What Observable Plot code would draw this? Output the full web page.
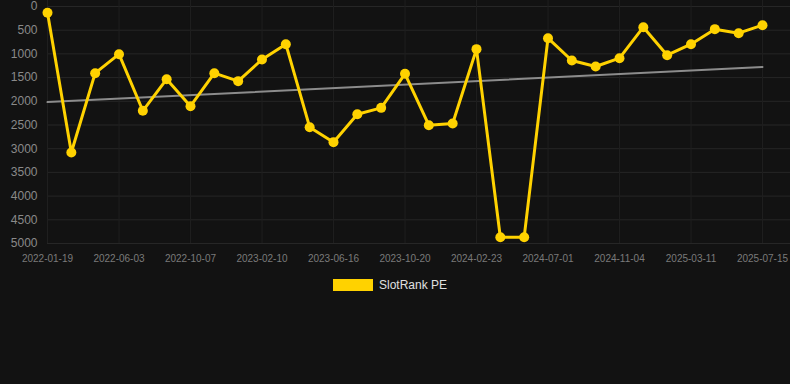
<!DOCTYPE html>
<html>
<head>
<meta charset="utf-8">
<script src="https://cdn.jsdelivr.net/npm/d3@7"></script>
<script src="https://cdn.jsdelivr.net/npm/@observablehq/plot@0.6"></script>
<style>
  html, body { margin: 0; padding: 0; background: #121212; }
  body { width: 790px; height: 384px; overflow: hidden; font-family: "Liberation Sans", Arial, sans-serif; }
  #chart svg { display: block; }
  #legend { position: relative; height: 30px; }
  #legend .sw { position: absolute; left: 333px; top: 7px; width: 40px; height: 12px; background: #FFD200; }
  #legend .lb { position: absolute; left: 379px; top: 6px; font-size: 12px; color: #e0e0e0; line-height: 14px; }
</style>
</head>
<body>
<div id="chart"></div>
<div id="legend"><div class="sw"></div><div class="lb">SlotRank PE</div></div>
<script>
const seriesName = "SlotRank PE";
const tickLabels = ["2022-01-19", "2022-06-03", "2022-10-07", "2023-02-10", "2023-06-16", "2023-10-20", "2024-02-23", "2024-07-01", "2024-11-04", "2025-03-11", "2025-07-15"];
const ranks = [130, 3080, 1407, 1006, 2200, 1533, 2103, 1407, 1575, 1118, 795, 2546, 2862, 2272, 2138, 1420, 2504, 2468, 900, 4867, 4867, 668, 1139, 1266, 1090, 436, 1027, 795, 478, 563, 394];
const yTicks = [0, 500, 1000, 1500, 2000, 2500, 3000, 3500, 4000, 4500, 5000];

const data = ranks.map((v, i) => ({i, v}));
const xTicks = tickLabels.map((_, k) => k * 3);

const chart = Plot.plot({
  width: 790,
  height: 272,
  marginLeft: 47,
  marginRight: 0,
  marginTop: 6,
  marginBottom: 29,
  style: {background: "#121212", fontFamily: "Liberation Sans, Arial, sans-serif", overflow: "visible"},
  x: {type: "linear", domain: [0, 31.175], ticks: xTicks, tickFormat: d => tickLabels[d / 3]},
  y: {domain: [0, 5000], reverse: true, ticks: yTicks, tickFormat: d => String(d)},
  marks: [
    Plot.gridY(yTicks, {stroke: "#262626", strokeOpacity: 1, strokeWidth: 1}),
    Plot.gridX(xTicks, {stroke: "#1f1f1f", strokeOpacity: 1, strokeWidth: 1, y1: -300, y2: 5000}),
    Plot.axisY(yTicks, {tickSize: 0, tickPadding: 10, fill: "#8a8a8a", fontSize: 12, label: null, tickFormat: d => String(d)}),
    Plot.axisX(xTicks, {tickSize: 0, tickPadding: 11, fill: "#7a7a7a", fontSize: 10, label: null, tickFormat: d => tickLabels[d / 3]}),
    Plot.linearRegressionY(data, {x: "i", y: "v", ci: 0, stroke: "#8c8c8c", strokeWidth: 2}),
    Plot.line(data, {x: "i", y: "v", stroke: "#FFD200", strokeWidth: 3}),
    Plot.dot(data, {x: "i", y: "v", r: 5, fill: "#FFD200", stroke: "none"})
  ]
});
document.getElementById("chart").appendChild(chart);
</script>
</body>
</html>
